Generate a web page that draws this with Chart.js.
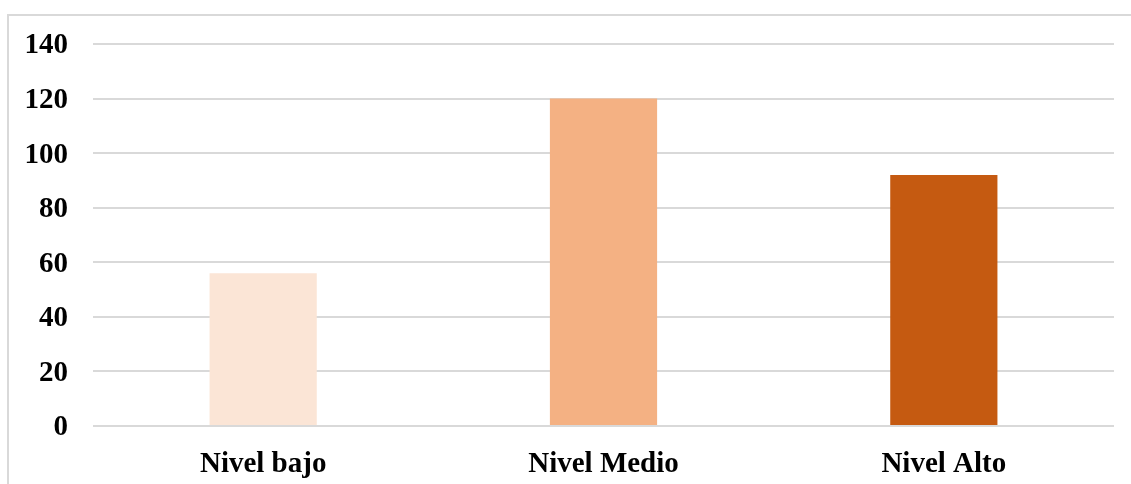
<!DOCTYPE html>
<html lang="es">
<head>
  <meta charset="UTF-8">
  <title>Niveles</title>
  <script src="https://cdn.jsdelivr.net/npm/chart.js"></script>
  <style>
    body { margin: 0; background: #fff; }
    #frame {
      position: absolute; left: 7px; top: 14px; width: 1124px; height: 470px;
      border-left: 2px solid #d9d9d9; border-top: 2px solid #d9d9d9;
      box-sizing: border-box;
    }
    #chart { position: absolute; left: 0; top: 0; }
  </style>
</head>
<body>
<div id="frame"></div>
<canvas id="chart" width="1131" height="484"></canvas>
<script>
const categories = ['Nivel bajo', 'Nivel Medio', 'Nivel Alto'];
const values = [56, 120, 92];
const barColors = ['#FBE5D6', '#F4B183', '#C55A11'];
const yTicks = [0, 20, 40, 60, 80, 100, 120, 140];

const font = { family: "'Liberation Serif', 'Times New Roman', serif", size: 29, weight: 'bold' };

new Chart(document.getElementById('chart'), {
  type: 'bar',
  data: {
    labels: categories,
    datasets: [{
      data: values,
      backgroundColor: barColors,
      categoryPercentage: 1,
      barPercentage: 0.315
    }]
  },
  options: {
    responsive: false,
    animation: false,
    layout: { padding: { left: 0, right: 17, top: 44, bottom: 0 } },
    plugins: { legend: { display: false }, tooltip: { enabled: false } },
    scales: {
      x: {
        grid: { display: false },
        border: { display: false },
        ticks: { color: '#000', font: font, padding: 13 },
        afterFit: s => { s.height = 58; }
      },
      y: {
        min: yTicks[0],
        max: yTicks[yTicks.length - 1],
        ticks: { stepSize: 20, color: '#000', font: font, padding: 25, labelOffset: 2 },
        grid: { color: '#d9d9d9', lineWidth: 2, drawTicks: false },
        border: { display: false },
        afterFit: s => { s.width = 93; }
      }
    }
  }
});
</script>
</body>
</html>
